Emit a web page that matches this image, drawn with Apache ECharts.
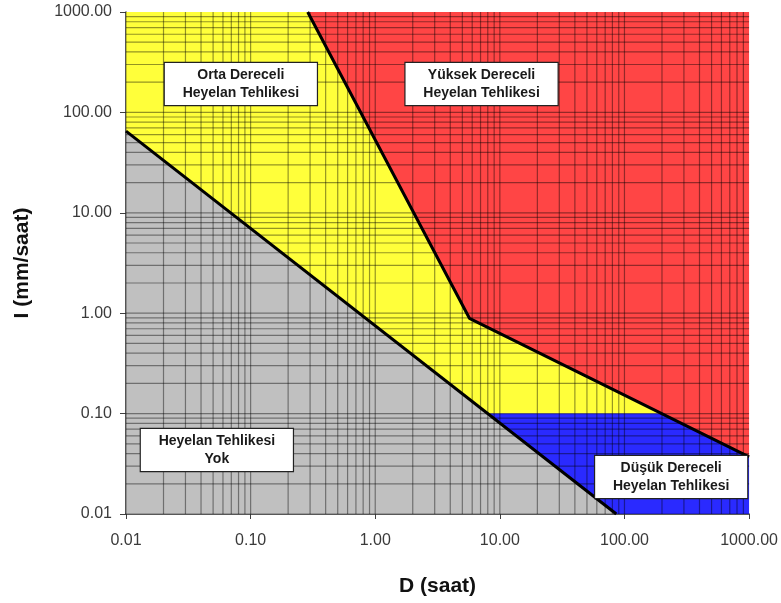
<!DOCTYPE html>
<html><head><meta charset="utf-8">
<script src="https://cdn.jsdelivr.net/npm/echarts@6/dist/echarts.min.js"></script>
<style>html,body{margin:0;padding:0;background:#fff}#c{width:781px;height:603px}</style>
</head><body><div id="c"></div>
<script>
// Axis ticks (log scale, decades)
const xTicks = [0.01, 0.1, 1, 10, 100, 1000];
const yTicks = [0.01, 0.1, 1, 10, 100, 1000];
const minorMultipliers = [1, 2, 3, 4, 5, 6, 7, 8, 9];

// Threshold lines (D, I)
const lowerThreshold = [[0.01, 65], [86, 0.01]];
const upperThreshold = [[0.287, 1000], [5.7, 0.89], [1000, 0.037]];

// Hazard zones (polygons in D, I)
const zoneNone   = [[0.01, 0.01], [0.01, 65], [86, 0.01]];
const zoneMedium = [[0.01, 65], [0.01, 1000], [0.287, 1000], [5.7, 0.89], [199, 0.1], [8, 0.1]];
const zoneHigh   = [[0.287, 1000], [1000, 1000], [1000, 0.037], [5.7, 0.89]];
const zoneLow    = [[8, 0.1], [199, 0.1], [1000, 0.037], [1000, 0.01], [86, 0.01]];

// Zone labels
const zoneLabels = [
  { name: 'Orta Dereceli\nHeyelan Tehlikesi', value: [0.0835, 192] },
  { name: 'Yüksek Dereceli\nHeyelan Tehlikesi', value: [7.13, 192] },
  { name: 'Heyelan Tehlikesi\nYok', value: [0.0536, 0.0434] },
  { name: 'Düşük Dereceli\nHeyelan Tehlikesi', value: [237, 0.0234] }
];

const zoneColors = ['#C0C0C0', '#FFFF3A', '#FF4545', '#2A2AFF'];
const zones = [zoneNone, zoneMedium, zoneHigh, zoneLow];

// Grid line values from decades
const xGrid = [], yGrid = [];
xTicks.slice(0, -1).forEach(d => minorMultipliers.forEach(m => xGrid.push(d * m)));
yTicks.slice(0, -1).forEach(d => minorMultipliers.forEach(m => yGrid.push(d * m)));
const xMin = xTicks[0], xMax = xTicks[xTicks.length - 1];
const yMin = yTicks[0], yMax = yTicks[yTicks.length - 1];

const chart = echarts.init(document.getElementById('c'));
const font = '"Liberation Sans", Arial, sans-serif';

const zoneSeries = zones.map((poly, i) => ({
  type: 'custom',
  z: 1,
  silent: true,
  data: [0],
  renderItem: (params, api) => ({
    type: 'polygon',
    shape: { points: poly.map(p => api.coord(p)) },
    style: { fill: zoneColors[i], stroke: null }
  })
}));

const gridData = xGrid.map(v => ['x', v]).concat(yGrid.map(v => ['y', v]));

const option = {
  animation: false,
  grid: { left: 126, right: 31, top: 12, bottom: 89 },
  xAxis: {
    type: 'log', logBase: 10, min: xMin, max: xMax,
    name: 'D (saat)', nameLocation: 'middle', nameGap: 62,
    nameTextStyle: { fontFamily: font, fontSize: 21, fontWeight: 'bold', color: '#111' },
    axisLine: { show: true, onZero: false, lineStyle: { color: '#404040', width: 1.5 } },
    axisTick: { show: true, length: 5, lineStyle: { color: '#404040' } },
    axisLabel: { fontFamily: font, fontSize: 16, color: '#3a3a3a', margin: 19,
      formatter: v => Number(v).toFixed(2) },
    splitLine: { show: false }
  },
  yAxis: {
    type: 'log', logBase: 10, min: yMin, max: yMax,
    name: 'I (mm/saat)', nameLocation: 'middle', nameGap: 93, nameRotate: 90,
    nameTextStyle: { fontFamily: font, fontSize: 21, fontWeight: 'bold', color: '#111' },
    axisLine: { show: true, onZero: false, lineStyle: { color: '#404040', width: 1.5 } },
    axisTick: { show: true, length: 6, lineStyle: { color: '#404040' } },
    axisLabel: { fontFamily: font, fontSize: 16, color: '#3a3a3a', margin: 14,
      formatter: v => Number(v).toFixed(2) },
    splitLine: { show: false }
  },
  series: zoneSeries.concat([
    {
      type: 'custom', z: 2, silent: true,
      data: gridData.map((d, i) => [i]),
      renderItem: (params, api) => {
        const g = gridData[params.dataIndex];
        let a, b;
        if (g[0] === 'x') { a = api.coord([g[1], yMin]); b = api.coord([g[1], yMax]); }
        else { a = api.coord([xMin, g[1]]); b = api.coord([xMax, g[1]]); }
        return {
          type: 'line',
          shape: { x1: a[0], y1: a[1], x2: b[0], y2: b[1] },
          style: { stroke: 'rgba(0,0,0,0.42)', lineWidth: 1.2 }
        };
      }
    },
    {
      type: 'line', z: 3, data: lowerThreshold, symbol: 'none', silent: true,
      lineStyle: { color: '#000', width: 3 }
    },
    {
      type: 'line', z: 3, data: upperThreshold, symbol: 'none', silent: true,
      lineStyle: { color: '#000', width: 3 }
    },
    {
      type: 'scatter', z: 4, symbolSize: 0, silent: true,
      itemStyle: { opacity: 1 },
      data: zoneLabels,
      label: {
        show: true, position: 'inside',
        formatter: p => p.name,
        fontFamily: font, fontSize: 14, fontWeight: 'bold', color: '#1a1a1a',
        lineHeight: 18, align: 'center',
        backgroundColor: '#fff', borderColor: '#222', borderWidth: 1.2,
        width: 132, padding: [3, 10, 3, 10]
      }
    }
  ])
};
chart.setOption(option);
</script>
</body></html>
